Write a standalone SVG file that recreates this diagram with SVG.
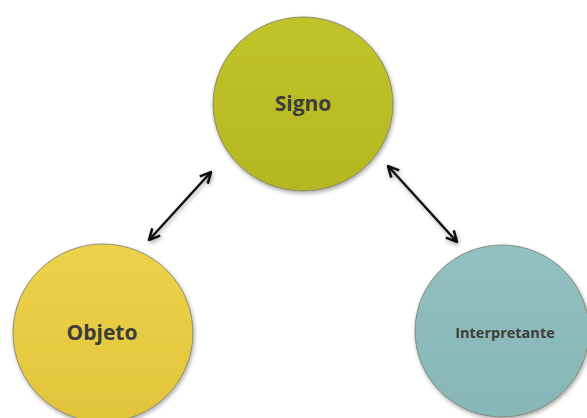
<svg xmlns="http://www.w3.org/2000/svg" width="587" height="418" viewBox="0 0 587 418">
<defs>
<style>
.node{stroke:#7a7a6a;stroke-width:0.8}
.lbl{font-family:"Open Sans","Noto Sans","DejaVu Sans",sans-serif;font-weight:bold;fill:#3d3d3a;text-anchor:middle;dominant-baseline:central}
.conn{stroke:#111;stroke-width:2.4;fill:none;marker-start:url(#ah);marker-end:url(#ah)}
</style>
<marker id="ah" viewBox="0 0 10 10" refX="9" refY="5" markerWidth="5.6" markerHeight="5.6" orient="auto-start-reverse" markerUnits="strokeWidth">
<path d="M1,1 L9,5 L1,9" fill="none" stroke="#111" stroke-width="1.9"/>
</marker>
<filter id="sh" x="-20%" y="-20%" width="140%" height="140%">
<feGaussianBlur in="SourceAlpha" stdDeviation="2"/>
<feOffset dx="1" dy="2"/>
<feComponentTransfer><feFuncA type="linear" slope="0.35"/></feComponentTransfer>
<feMerge><feMergeNode/><feMergeNode in="SourceGraphic"/></feMerge>
</filter>
<linearGradient id="g1" x1="0" y1="0" x2="0" y2="1"><stop offset="0" stop-color="#c0c32a"/><stop offset="1" stop-color="#b5b722"/></linearGradient>
<linearGradient id="g2" x1="0" y1="0" x2="0" y2="1"><stop offset="0" stop-color="#ecd24a"/><stop offset="1" stop-color="#e2c43a"/></linearGradient>
<linearGradient id="g3" x1="0" y1="0" x2="0" y2="1"><stop offset="0" stop-color="#93c0c0"/><stop offset="1" stop-color="#86b6b6"/></linearGradient>
</defs>
<rect width="587" height="418" fill="#fff"/>
<g id="connectors" filter="url(#sh)">
<line class="conn" x1="149" y1="240" x2="211" y2="172"/>
<line class="conn" x1="388" y1="166" x2="457" y2="242"/>
</g>
<g id="signo">
<ellipse class="node" cx="303" cy="104" rx="90" ry="87" fill="url(#g1)" filter="url(#sh)"/>
<text class="lbl" x="303" y="103" font-size="21">Signo</text>
</g>
<g id="objeto">
<ellipse class="node" cx="103" cy="333" rx="90" ry="89" fill="url(#g2)" filter="url(#sh)"/>
<text class="lbl" x="102" y="332" font-size="21">Objeto</text>
</g>
<g id="interpretante">
<ellipse class="node" cx="502" cy="331" rx="87" ry="86" fill="url(#g3)" filter="url(#sh)"/>
<text class="lbl" x="505" y="332" font-size="14.5">Interpretante</text>
</g>
</svg>
